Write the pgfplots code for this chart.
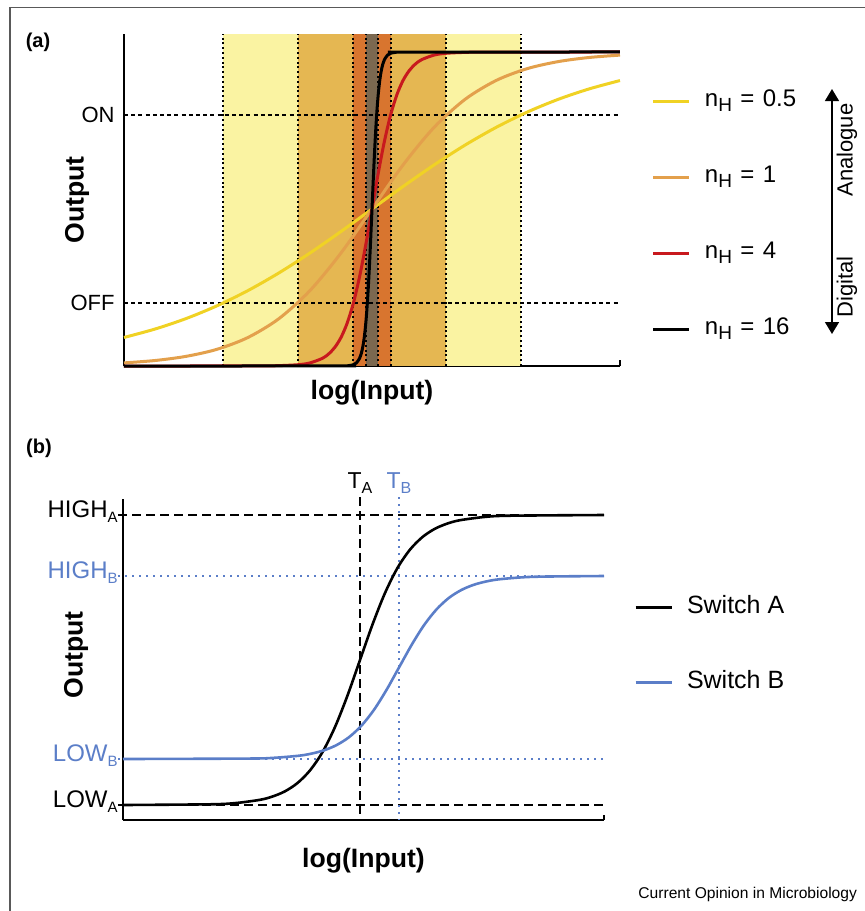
\documentclass[border=0pt]{standalone}
\usepackage{fontspec}
\setmainfont{Liberation Sans}
\usepackage{xcolor}
\usepackage{pgfplots}
\pgfplotsset{compat=1.18}
\usetikzlibrary{arrows.meta}

\definecolor{bandY}{HTML}{FAF3A2}
\definecolor{bandG}{HTML}{E5B752}
\definecolor{bandO}{HTML}{D8752F}
\definecolor{bandC}{HTML}{7B6850}
\definecolor{cY}{HTML}{F0D224}
\definecolor{cO}{HTML}{E3A04C}
\definecolor{cR}{HTML}{C8191E}
\definecolor{cB}{HTML}{5B7EC8}

% subscript: lowered, smaller
\newcommand{\sub}[2][7.5pt]{\raisebox{-2.5pt}{\fontsize{#1}{#1}\selectfont #2}}
\newcommand{\nH}[1]{n\sub[9.5pt]{H}\hspace{0.35em}=\hspace{0.35em}#1}

\begin{document}
\begin{tikzpicture}[x=0.5pt, y=-0.5pt]
\useasboundingbox (0,0) rectangle (865,911);
\draw[black!65, line width=0.6pt] (10,911) -- (10,7.5) -- (866,7.5);

% ---------------- panel (a) ----------------
\node[font=\bfseries\fontsize{10}{12}\selectfont] at (38,42.5) {(a)};
\begin{axis}[
    at={(62pt,-183pt)}, anchor=south west,
    scale only axis, width=248pt, height=166pt,
    xmin=-2, xmax=2, ymin=0, ymax=1.0573,
    axis x line=bottom, axis y line=left,
    axis line style={line width=1pt, -},
    xtick=\empty, ytick={0.2,0.8}, yticklabels={OFF,ON},
    major tick length=0pt,
    yticklabel style={anchor=east, inner sep=0pt, xshift=-4.5pt,
        font=\fontsize{11}{12}\selectfont},
    xlabel={log(Input)}, ylabel={Output},
    xlabel style={at={(axis description cs:0.5,0)}, anchor=center,
        yshift=-13.25pt, font=\bfseries\fontsize{13.3}{15}\selectfont},
    ylabel style={at={(axis description cs:-0.0948,0.5)}, anchor=center,
        font=\bfseries\fontsize{13.3}{15}\selectfont},
    clip=false,
    legend cell align=left,
    legend style={draw=none, fill=none,
        at={(axis description cs:1.0645,0.8313)}, anchor=north west,
        inner sep=0pt, outer sep=0pt, row sep=27pt, column sep=7pt,
        font=\fontsize{12}{14}\selectfont,
        nodes={inner sep=0pt, text height=8pt, text depth=3pt}},
    legend image code/.code={
        \path[draw=none, fill=none] (0pt,-4pt) rectangle (18pt,-4pt);
        \draw[#1] (0pt,0pt) -- (18pt,0pt);},
]
% bands
\addplot[fill=bandY, draw=none, forget plot] coordinates {(-1.2,1.0573) (1.2,1.0573)} \closedcycle;
\addplot[fill=bandG, draw=none, forget plot] coordinates {(-0.6,1.0573) (0.6,1.0573)} \closedcycle;
\addplot[fill=bandO, draw=none, forget plot] coordinates {(-0.15,1.0573) (0.15,1.0573)} \closedcycle;
\addplot[fill=bandC, draw=none, forget plot] coordinates {(-0.045,1.0573) (0.045,1.0573)} \closedcycle;
% band edges
\pgfplotsinvokeforeach{-1.2,-0.6,-0.15,-0.045,0.045,0.15,0.6,1.2}{
  \addplot[black, line width=1pt, dash pattern=on 1pt off 1.4pt, forget plot]
    coordinates {(#1,0) (#1,1.0573)};
}
% ON / OFF
\addplot[black, line width=0.9pt, dash pattern=on 2pt off 1.6pt, forget plot] coordinates {(-2,0.8) (2,0.8)};
\addplot[black, line width=0.9pt, dash pattern=on 2pt off 1.6pt, forget plot] coordinates {(-2,0.2) (2,0.2)};
\addplot[black, line width=1pt, forget plot] coordinates {(2,0) (2,0.019)};
% curves
\addplot[cY, line width=1.5pt, smooth] coordinates {
 (-2,0.0909) (-1.75,0.1177) (-1.5,0.1510) (-1.25,0.1917) (-1,0.2403)
 (-0.75,0.2966) (-0.5,0.3599) (-0.25,0.4284) (0,0.5) (0.25,0.5716)
 (0.5,0.6401) (0.75,0.7034) (1,0.7597) (1.25,0.8083) (1.5,0.8490)
 (1.75,0.8823) (2,0.9091)};
\addlegendentry{\nH{0.5}}
\addplot[cO, line width=1.5pt, smooth] coordinates {
 (-2,0.0099) (-1.75,0.0175) (-1.5,0.0307) (-1.25,0.0532) (-1,0.0909)
 (-0.75,0.1510) (-0.5,0.2403) (-0.25,0.3599) (0,0.5) (0.25,0.6401)
 (0.5,0.7597) (0.75,0.8490) (1,0.9091) (1.25,0.9468) (1.5,0.9693)
 (1.75,0.9825) (2,0.9901)};
\addlegendentry{\nH{1}}
\addplot[cR, line width=1.5pt, smooth] coordinates {
 (-2,0) (-1,0.0001) (-0.8,0.0006) (-0.6,0.004) (-0.5,0.0099) (-0.4,0.0245)
 (-0.35,0.0383) (-0.3,0.0594) (-0.25,0.0909) (-0.2,0.1368) (-0.15,0.2008)
 (-0.1,0.2847) (-0.05,0.3869) (0,0.5) (0.05,0.6131) (0.1,0.7153)
 (0.15,0.7992) (0.2,0.8632) (0.25,0.9091) (0.3,0.9406) (0.35,0.9617)
 (0.4,0.9755) (0.5,0.9901) (0.6,0.996) (0.8,0.9994) (1,0.9999) (2,1)};
\addlegendentry{\nH{4}}
\addplot[black, line width=1.5pt, smooth] coordinates {
 (-2,0) (-0.25,0.0001) (-0.2,0.0006) (-0.15,0.004) (-0.125,0.0099)
 (-0.1,0.0245) (-0.0875,0.0383) (-0.075,0.0594) (-0.0625,0.0909)
 (-0.05,0.1368) (-0.0375,0.2008) (-0.025,0.2847) (-0.0125,0.3869) (0,0.5)
 (0.0125,0.6131) (0.025,0.7153) (0.0375,0.7992) (0.05,0.8632)
 (0.0625,0.9091) (0.075,0.9406) (0.0875,0.9617) (0.1,0.9755)
 (0.125,0.9901) (0.15,0.996) (0.2,0.9994) (0.25,0.9999) (2,1)};
\addlegendentry{\nH{16}}
\end{axis}

\draw[line width=0.75pt, {Triangle[length=6pt,width=7pt]}-{Triangle[length=6pt,width=7pt]}] (832,89) -- (832,334);
\node[rotate=90, font=\fontsize{11}{12}\selectfont] at (847,150) {Analogue};
\node[rotate=90, font=\fontsize{11}{12}\selectfont] at (847,287) {Digital};

% ---------------- panel (b) ----------------
\node[font=\bfseries\fontsize{10}{12}\selectfont] at (39,448) {(b)};
\begin{axis}[
    at={(61.5pt,-410pt)}, anchor=south west,
    scale only axis, width=240.5pt, height=160.5pt,
    xmin=0, xmax=481, ymin=0, ymax=321,
    axis x line=bottom, axis y line=left,
    axis line style={line width=1pt, -},
    xtick=\empty, ytick={15,61,244,305},
    yticklabels={LOW\sub{A}, \textcolor{cB}{LOW\sub{B}}, \textcolor{cB}{HIGH\sub{B}}, HIGH\sub{A}},
    major tick length=0pt,
    yticklabel style={anchor=base east, inner sep=0pt, xshift=-2.5pt, yshift=-1pt,
        font=\fontsize{12}{13}\selectfont},
    xlabel={log(Input)}, ylabel={Output},
    xlabel style={at={(axis description cs:0.5,0)}, anchor=center,
        yshift=-20.25pt, font=\bfseries\fontsize{13.3}{15}\selectfont},
    ylabel style={at={(axis description cs:-0.0977,0.514)}, anchor=center,
        font=\bfseries\fontsize{13.3}{15}\selectfont},
    clip=false,
    legend cell align=left,
    legend style={draw=none, fill=none,
        at={(axis description cs:1.0624,0.7009)}, anchor=north west,
        inner sep=0pt, outer sep=0pt, row sep=25.5pt, column sep=7pt,
        font=\fontsize{12.5}{14}\selectfont,
        nodes={inner sep=0pt, text height=9pt, text depth=3pt}},
    legend image code/.code={
        \path[draw=none, fill=none] (0pt,-3pt) rectangle (18pt,-3pt);
        \draw[#1, line width=1.5pt] (0pt,0pt) -- (18pt,0pt);},
]
\addplot[black, line width=0.7pt, dash pattern=on 4.5pt off 2.5pt, forget plot] coordinates {(-5,305) (481,305)};
\addplot[black, line width=0.7pt, dash pattern=on 4.5pt off 2.5pt, forget plot] coordinates {(-5,15) (481,15)};
\addplot[cB, line width=0.9pt, dash pattern=on 1.2pt off 2.3pt, forget plot] coordinates {(-5,244) (481,244)};
\addplot[cB, line width=0.9pt, dash pattern=on 1.2pt off 2.3pt, forget plot] coordinates {(-5,61) (481,61)};
\addplot[black, line width=0.7pt, dash pattern=on 4.5pt off 2.5pt, forget plot] coordinates {(237,323) (237,0)};
\addplot[cB, line width=0.9pt, dash pattern=on 1.2pt off 2.3pt, forget plot] coordinates {(276,323) (276,0)};
\addplot[black, line width=1pt, forget plot] coordinates {(481,0) (481,5)};
\addplot[black, line width=1.3pt, smooth] coordinates {
 (0,15) (87,15.7) (112,16.9) (137,20.2) (149.5,23.5) (162,28.7) (174.5,37.0)
 (187,49.6) (199.5,67.9) (212,93.0) (224.5,124.5) (237,160) (249.5,195.5)
 (262,227.0) (274.5,252.1) (287,270.4) (299.5,283.0) (312,291.3)
 (324.5,296.5) (337,299.8) (362,303.1) (387,304.3) (481,305)};
\addlegendentry{Switch A}
\addplot[cB, line width=1.3pt, smooth] coordinates {
 (0,61) (126,61.45) (151,62.2) (176,64.3) (188.5,66.4) (201,69.7) (213.5,74.9)
 (226,82.8) (238.5,94.4) (251,110.2) (263.5,130.1) (276,152.5) (288.5,174.9)
 (301,194.8) (313.5,210.6) (326,222.2) (338.5,230.1) (351,235.3)
 (363.5,238.6) (376,240.7) (401,242.8) (426,243.5) (481,244)};
\addlegendentry{Switch B}
\node[anchor=base, font=\fontsize{11.5}{12}\selectfont] at (axis cs:237,332) {T\sub[8pt]{A}};
\node[anchor=base, text=cB, font=\fontsize{11.5}{12}\selectfont] at (axis cs:276,332) {T\sub[8pt]{B}};
\end{axis}

\node[anchor=base east, font=\fontsize{7.8}{9}\selectfont] at (864,898) {Current Opinion in Microbiology};
\end{tikzpicture}
\end{document}
